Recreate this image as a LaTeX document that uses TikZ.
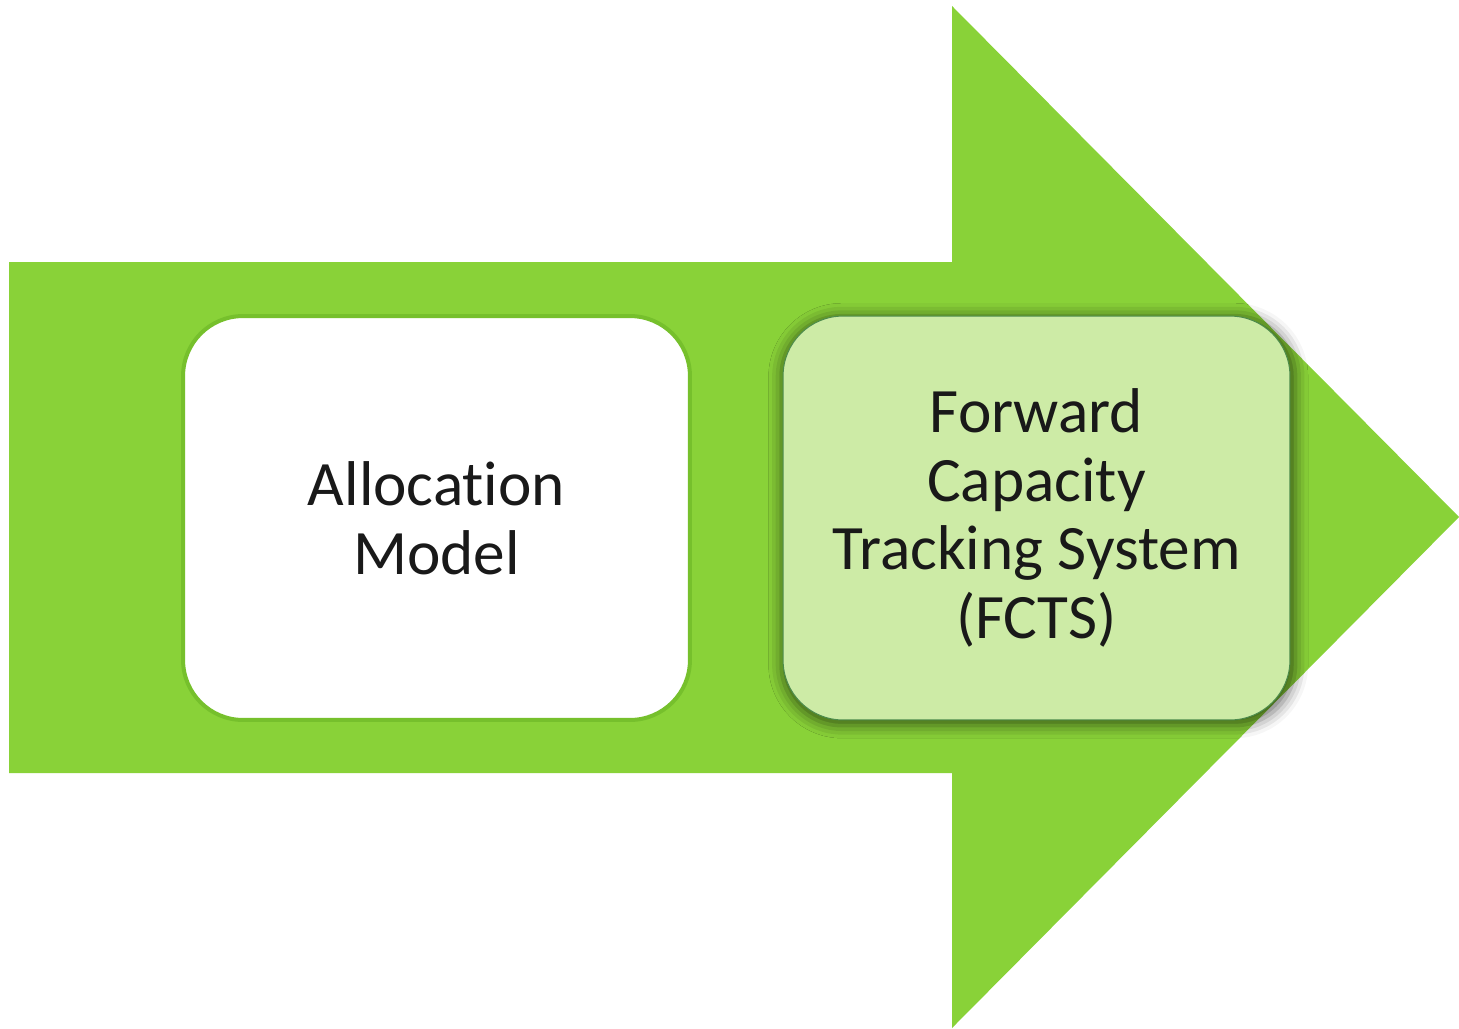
\documentclass[tikz,border=0pt]{standalone}
\usepackage{fontspec}
\setmainfont{Carlito}[Ligatures=NoCommon]
\usepackage{xcolor}
\usetikzlibrary{shadows.blur}

\definecolor{flowgreen}{RGB}{137,210,56}
\definecolor{edgegreen}{RGB}{118,192,44}
\definecolor{palegreen}{RGB}{205,235,166}

\begin{document}
\begin{tikzpicture}[
    x=0.02cm, y=-0.02cm,
    flow/.style={fill=flowgreen, draw=none},
    stagebox/.style={rectangle, rounded corners=1.2cm, minimum width=10.14cm, minimum height=8.08cm, align=center, font=\fontsize{36}{39}\selectfont, text=black!90},
    plainstage/.style={stagebox, draw=edgegreen, line width=0.08cm, fill=white},
    activestage/.style={stagebox, draw=green!35!black!70, line width=0.02cm, fill=palegreen,
        blur shadow={shadow xshift=1pt, shadow yshift=-1.5pt, shadow blur radius=7pt, shadow opacity=55, shadow scale=1.015}},
]

% page frame
\useasboundingbox (0,0) rectangle (1459,1028);

% big process arrow
\coordinate (tail top) at (9,262);
\coordinate (tail bottom) at (9,773);
\coordinate (tip) at (1459,517);
\fill[flow] (tail top) -- (952,262) -- (952,6) -- (tip) -- (952,1028) -- (952,773) -- (tail bottom) -- cycle;

% Stages
\node[plainstage] (alloc) at (436.5,518) {Allocation\\Model};
\node[activestage] (fcts) at (1036.5,518) {Forward\\Capacity\\Tracking System\\(FCTS)};

\end{tikzpicture}
\end{document}
